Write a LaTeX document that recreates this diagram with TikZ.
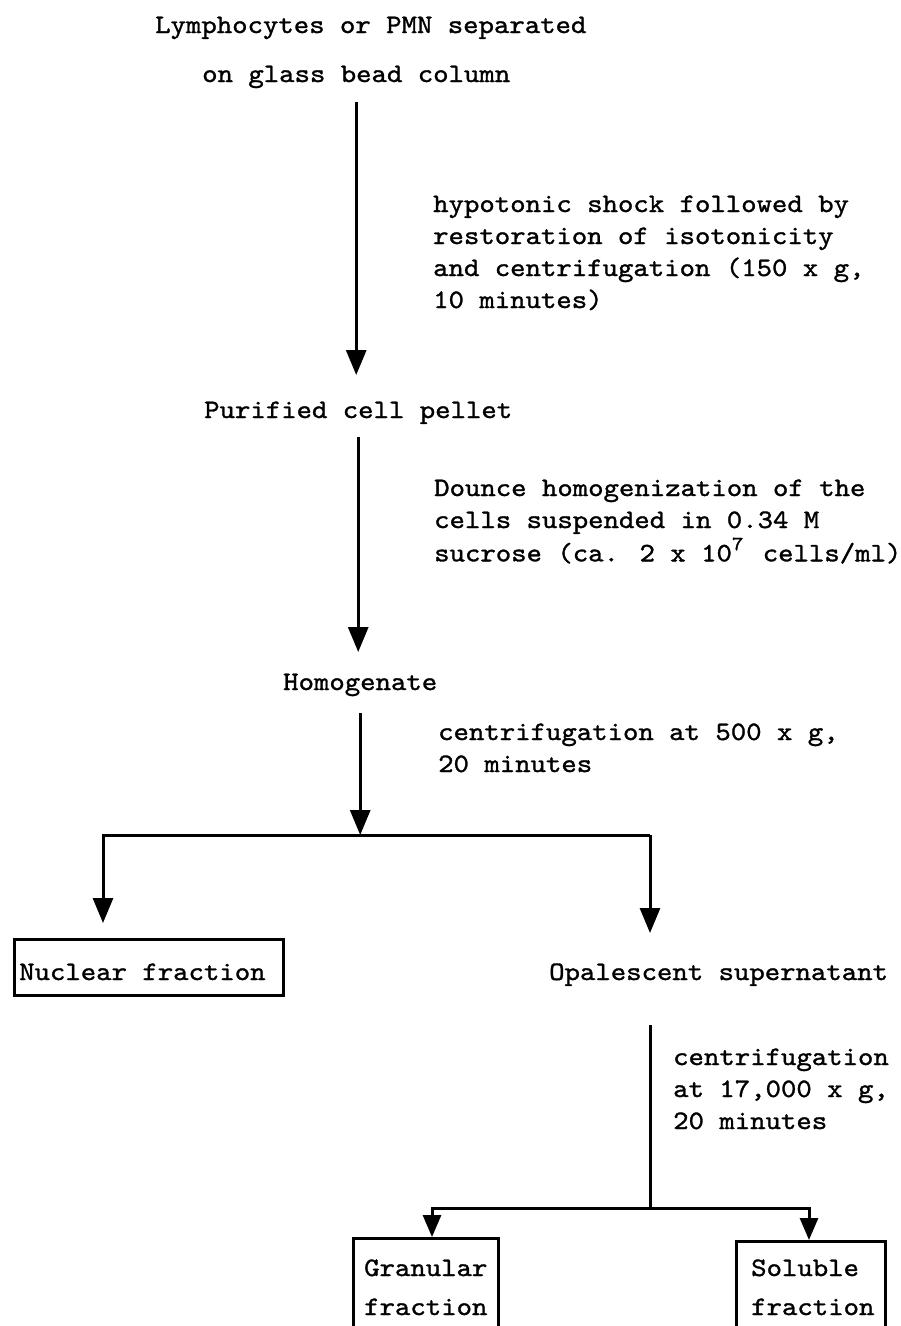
\documentclass[tikz,border=0pt]{standalone}
\usepackage{fontspec}
\newfontfamily\tw{lmmono10-regular.otf}[FakeStretch=1.1,FakeBold=1.2]
\usetikzlibrary{arrows.meta}
\newcommand\ml[1]{\begin{tabular}[t]{@{}l@{}}#1\end{tabular}}
\newcommand\sev{\raisebox{0.42em}{\makebox[0.5775em][l]{\fontsize{20}{20}\selectfont 7}}}
\begin{document}
\begin{tikzpicture}[x=1pt,y=-1pt,
  txt/.style={font=\tw\fontsize{26.67}{32}\selectfont, inner sep=0pt, anchor=base west},
  arr/.style={line width=3pt, -{Triangle[width=20pt,length=25pt]}},
  arrsmall/.style={line width=3pt, -{Triangle[width=18pt,length=22pt]}},
  ln/.style={line width=3pt},
  boxn/.style={draw, line width=2.6pt, inner sep=0pt, anchor=north west}]
\fill[white] (0,0) rectangle (901,1326);
\useasboundingbox (0,0) rectangle (901,1326);
\clip (0,0) rectangle (901,1326);

\node[txt] (t1) at (155,33) {Lymphocytes or PMN separated};
\node[txt] (t2) at (202,82) {on glass bead column};
\node[txt] (l1) at (433,212) {\ml{hypotonic shock followed by\\restoration of isotonicity\\and centrifugation (150 x g,\\10 minutes)}};
\node[txt] (pel) at (204,418) {Purified cell pellet};
\node[txt] (l2) at (434,496) {\ml{Dounce homogenization of the\\cells suspended in 0.34 M\\sucrose (ca. 2 x 10{\sev} cells/ml)}};
\node[txt] (hom) at (283,690) {Homogenate};
\node[txt] (l3) at (438,740) {\ml{centrifugation at 500 x g,\\20 minutes}};
\node[boxn, minimum width=269pt, minimum height=56pt] (nucb) at (13,938) {};
\node[txt] (nuc) at (19,980) {Nuclear fraction};
\node[txt] (opa) at (549,980) {Opalescent supernatant};
\node[txt] (l4) at (673,1065) {\ml{centrifugation\\at 17,000 x g,\\20 minutes}};
\node[boxn, minimum width=145pt, minimum height=110pt] (grb) at (352,1237) {};
\node[txt] (gra) at (364,1276) {\ml{Granular\\[7pt]fraction}};
\node[boxn, minimum width=149pt, minimum height=110pt] (sob) at (735,1240) {};
\node[txt] (sol) at (751,1276) {\ml{Soluble\\[7pt]fraction}};

\coordinate (bL) at (103,835);
\coordinate (bR) at (650,835);
\coordinate (cL) at (432,1208);
\coordinate (cM) at (650,1208);
\coordinate (cR) at (809,1208);

\draw[arr, shorten <=20pt, shorten >=43pt] (t2.base) -- (t2.base |- pel.base);
\draw[arr, shorten <=19pt, shorten >=38pt] (pel.base) -- (pel.base |- hom.base);
\draw[arr, shorten <=23pt] (hom.base) -- (hom.base |- bL);
\draw[arr, shorten >=15pt] (bR) -- (bL) -- (bL |- nucb.north);
\draw[arr, shorten >=47pt] (bR) -- (bR |- opa.base);
\draw[ln, shorten <=45pt] (opa.base -| cM) -- (cM);
\draw[arrsmall] (cM) -- (cL) -- (cL |- grb.north);
\draw[arrsmall] (cM) -- (cR) -- (cR |- sob.north);
\end{tikzpicture}
\end{document}
